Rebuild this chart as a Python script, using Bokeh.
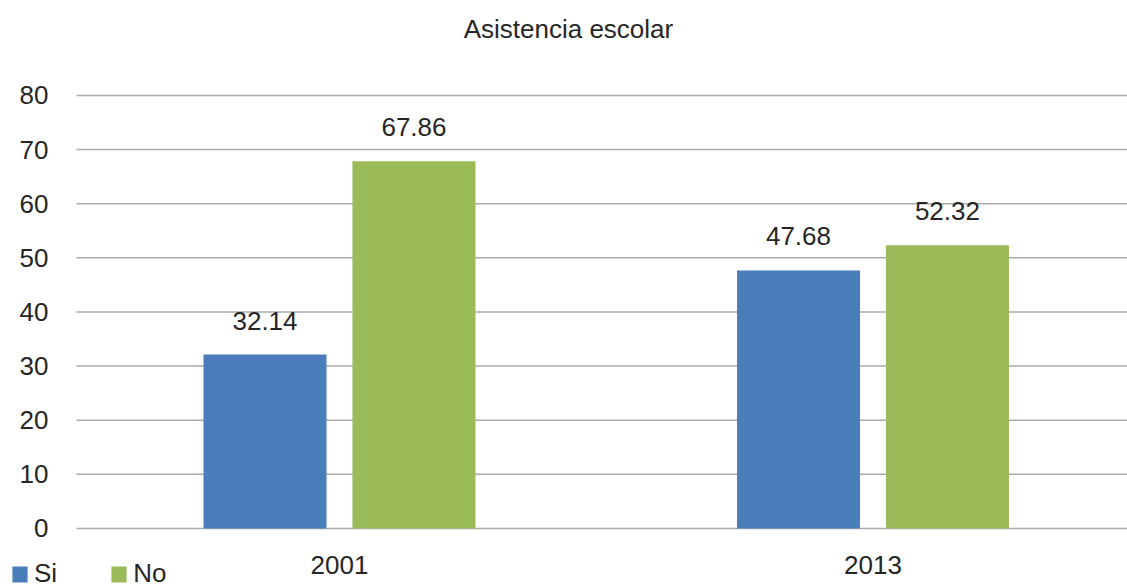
from bokeh.plotting import figure
from bokeh.models import (ColumnDataSource, Range1d, FixedTicker, Legend, LegendItem,
                          LabelSet, Label)
from bokeh.core.properties import value
from bokeh.transform import dodge
from bokeh.embed import file_html
from bokeh.resources import INLINE

# ---- data ----
categories = ["2001", "2013"]
si_values = [32.14, 47.68]
no_values = [67.86, 52.32]
y_ticks = [0, 10, 20, 30, 40, 50, 60, 70, 80]
title_text = "Asistencia escolar"
series_names = ["Si", "No"]

FONT = "Liberation Sans"
TEXT_COLOR = "#262626"
BLUE = "#4A7EBB"
GREEN = "#9BBB59"
GRID = "#ababab"

# plot-area edges in data units (frame covers whole canvas)
X_START, X_END = -0.6354, 1.4771
Y_START, Y_END = -10.35, 97.55
AXIS_X = -0.49297

src = ColumnDataSource(dict(
    x=list(range(len(categories))),
    cat=categories,
    si=si_values,
    no=no_values,
    si_txt=[f"{v:.2f}" for v in si_values],
    no_txt=[f"{v:.2f}" for v in no_values],
))
grid_src = ColumnDataSource(dict(y=y_ticks, x0=[AXIS_X] * len(y_ticks),
                                 x1=[X_END] * len(y_ticks)))

p = figure(width=1127, height=584, output_backend="svg", toolbar_location=None,
           x_range=Range1d(X_START, X_END), y_range=Range1d(Y_START, Y_END),
           min_border=0, min_border_left=0, min_border_right=0,
           min_border_top=0, min_border_bottom=0)
p.outline_line_color = None
p.background_fill_color = "white"
p.border_fill_color = "white"
p.xgrid.visible = False
p.ygrid.visible = False

# horizontal gridlines at the y ticks
p.segment(x0="x0", x1="x1", y0="y", y1="y", source=grid_src,
          line_color=GRID, line_width=1.5)

off = 0.1396
bw = 0.2306
r_si = p.vbar(x=dodge("x", -off, range=p.x_range), top="si", width=bw, source=src,
              fill_color=BLUE, line_color=None)
r_no = p.vbar(x=dodge("x", off, range=p.x_range), top="no", width=bw, source=src,
              fill_color=GREEN, line_color=None)

# value labels
for col, o in (("si_txt", -off), ("no_txt", off)):
    ycol = col.split("_")[0]
    p.add_layout(LabelSet(x=dodge("x", o, range=p.x_range), y=ycol, text=col, source=src,
                          y_offset=25, text_align="center", text_baseline="alphabetic",
                          text_font=value(FONT), text_font_size=value("26px"),
                          text_color=TEXT_COLOR))

# y axis drawn at the plot-area left edge
yax = p.yaxis[0]
yax.fixed_location = AXIS_X
yax.ticker = FixedTicker(ticks=y_ticks)
yax.axis_line_color = None
yax.major_tick_line_color = None
yax.minor_tick_line_color = None
yax.major_tick_out = 0
yax.major_tick_in = 0
yax.minor_tick_out = 0
yax.major_label_standoff = 28
yax.major_label_text_font = FONT
yax.major_label_text_font_size = "26px"
yax.major_label_text_color = TEXT_COLOR

# x axis drawn at y = 0
xax = p.xaxis[0]
xax.fixed_location = 0
xax.ticker = FixedTicker(ticks=list(range(len(categories))))
xax.major_label_overrides = {i: c for i, c in enumerate(categories)}
xax.axis_line_color = None
xax.major_tick_line_color = None
xax.minor_tick_line_color = None
xax.major_tick_out = 0
xax.major_tick_in = 0
xax.minor_tick_out = 0
xax.major_label_standoff = 28
xax.major_label_text_font = FONT
xax.major_label_text_font_size = "26px"
xax.major_label_text_color = TEXT_COLOR

# title
p.add_layout(Label(x=0.4292, y=80, y_offset=66, text=title_text, text_align="center",
                   text_baseline="alphabetic", text_font=FONT, text_font_size="26px",
                   text_color=TEXT_COLOR))

# legend
legend = Legend(items=[LegendItem(label=series_names[0], renderers=[r_si]),
                       LegendItem(label=series_names[1], renderers=[r_no])],
                orientation="horizontal", location=(10, -5),
                glyph_width=19, glyph_height=20, label_standoff=5, spacing=52,
                padding=0, margin=0, border_line_color=None, background_fill_alpha=0,
                label_text_font=FONT, label_text_font_size="26px",
                label_text_color=TEXT_COLOR)
p.add_layout(legend)

open("out.html", "w").write(file_html(p, INLINE))
